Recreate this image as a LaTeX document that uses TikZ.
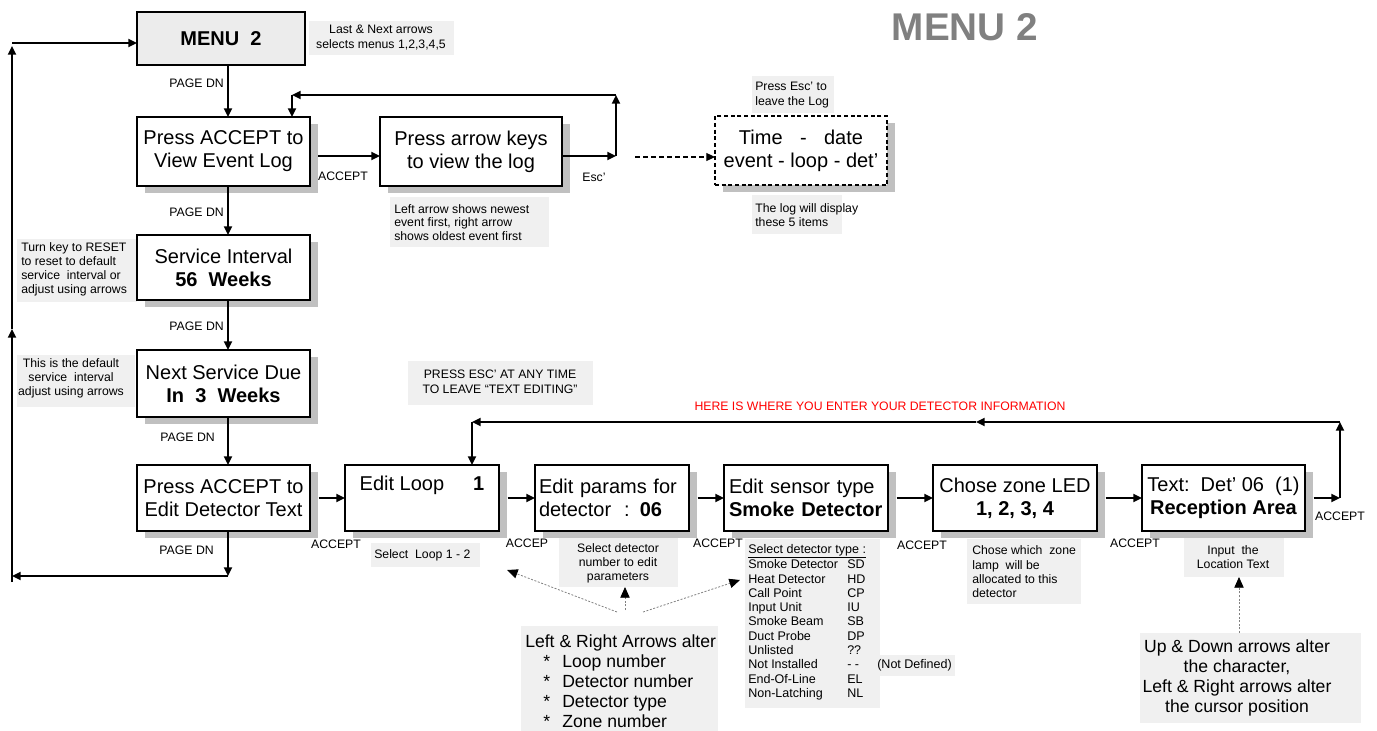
\documentclass[tikz,border=0pt]{standalone}
\usepackage{fontspec}
\setmainfont{Liberation Sans}
\usetikzlibrary{arrows.meta,fit,shadows}
\definecolor{notebg}{RGB}{240,240,240}
\definecolor{menubg}{RGB}{236,236,236}
\definecolor{shadowgray}{RGB}{192,192,192}
\definecolor{titlegray}{RGB}{128,128,128}
\definecolor{hintred}{RGB}{255,0,0}
\tikzset{
  boxnode/.style={draw, line width=2pt, fill=white, inner sep=0pt, outer sep=0pt,
    font=\fontsize{15}{17.25}\selectfont, align=center, minimum height=49.5pt,
    drop shadow={shadow xshift=6pt, shadow yshift=-5pt, fill=shadowgray, opacity=1}},
  notebox/.style={fill=notebg, inner sep=0pt, outer sep=0pt},
  notetext/.style={font=\fontsize{9.2}{10.5}\selectfont, inner sep=0pt},
  lbl/.style={font=\fontsize{9.2}{11}\selectfont, inner sep=0pt},
  bigtext/.style={font=\fontsize{13.2}{15}\selectfont, inner sep=0pt},
  arr/.style={line width=1.4pt, -{Triangle[length=6.5pt,width=6pt]}},
  dasharr/.style={line width=0.8pt, dash pattern=on 3.5pt off 2.5pt, -{Triangle[length=6.5pt,width=6pt]}},
  dotarr/.style={gray, line width=0.6pt, dash pattern=on 1.5pt off 1.2pt, -{Triangle[length=8pt,width=7pt,color=black]}},
}
\begin{document}
\begin{tikzpicture}[x=0.75pt,y=-0.75pt]
\useasboundingbox (0,0) rectangle (1377,731);

% title
\node[font=\bfseries\fontsize{29}{32}\selectfont, text=titlegray, inner sep=0pt] (title) at (965,27) {MENU 2};

% ---------- notes (backgrounds + texts)
\node[notebox, fit={(309,21)(454,55)}] (nmenubg) {};
\node[notetext, align=center, font=\fontsize{9.2}{11.25}\selectfont] (nmenu) at (381,38) {Last \& Next arrows\\selects menus 1,2,3,4,5};

\node[notebox, fit={(752,76)(834,113)}] (nescbg) {};
\node[notetext, align=left, anchor=west, font=\fontsize{9.2}{11.5}\selectfont] (nesc) at (755,95) {Press Esc’ to\\leave the Log};

\node[notebox, fit={(752,195)(842,234)}] (nlogbg) {};
\node[notetext, align=left, anchor=west, font=\fontsize{9.2}{11}\selectfont] (nlog) at (755,215) {The log will display\\these 5 items};

\node[notebox, fit={(390,197)(549,247)}] (nleftbg) {};
\node[notetext, align=left, anchor=west, font=\fontsize{9.2}{10.2}\selectfont] (nleft) at (394,222.5) {Left arrow shows newest\\event first, right arrow\\shows oldest event first};

\node[notebox, fit={(17,239)(137,302)}] (nresetbg) {};
\node[notetext, align=left, anchor=west] (nreset) at (21,269) {Turn key to RESET\\to reset to default\\service\ \ interval or\\adjust using arrows};

\node[notebox, fit={(17,355)(135,407)}] (ndefbg) {};
\node[notetext, align=center] (ndef) at (71,378) {This is the default\\service\ \ interval\\adjust using arrows};

\node[notebox, fit={(408,361)(593,405)}] (npressbg) {};
\node[notetext, align=center, font=\fontsize{9.2}{11.25}\selectfont] (npress) at (500,382) {PRESS ESC’ AT ANY TIME\\TO LEAVE “TEXT EDITING”};

\node[lbl, text=hintred] (red) at (880,406) {HERE IS WHERE YOU ENTER YOUR DETECTOR INFORMATION};

\node[notebox, fit={(371,543)(480,567)}] (nloopbg) {};
\node[notetext, anchor=west] (nloop) at (374,555) {Select\ \ Loop 1 - 2};

\node[notebox, fit={(559,537)(678,587)}] (ndetbg) {};
\node[notetext, align=center] (ndet) at (618,563) {Select detector\\number to edit\\parameters};

\node[notebox, fit={(745,539)(880,708)}] (ntypebg) {};
\node[notebox, fit={(880,655)(955,676)}] (nndbg) {};
\node[notetext, align=left, anchor=west, font=\fontsize{9.4}{10.725}\selectfont] (ntype) at (748,622) {%
\underline{Select detector type :}\\
\makebox[74.25pt][l]{Smoke Detector}SD\\
\makebox[74.25pt][l]{Heat Detector}HD\\
\makebox[74.25pt][l]{Call Point}CP\\
\makebox[74.25pt][l]{Input Unit}IU\\
\makebox[74.25pt][l]{Smoke Beam}SB\\
\makebox[74.25pt][l]{Duct Probe}DP\\
\makebox[74.25pt][l]{Unlisted}??\\
\makebox[74.25pt][l]{Not Installed}- -\\
\makebox[74.25pt][l]{End-Of-Line}EL\\
\makebox[74.25pt][l]{Non-Latching}NL};
\node[notetext, anchor=west, font=\fontsize{9.4}{11}\selectfont] (nnd) at (877,665) {(Not Defined)};

\node[notebox, fit={(967,539)(1081,604)}] (nzonebg) {};
\node[notetext, align=left, anchor=west, font=\fontsize{9.2}{10.8}\selectfont] (nzone) at (972,572) {Chose which\ \ zone\\lamp\ \ will be\\allocated to this\\detector};

\node[notebox, fit={(1184,538)(1284,577)}] (nlocbg) {};
\node[notetext, align=center] (nloc) at (1233,557) {Input\ \ the\\Location Text};

\node[notebox, fit={(521,626)(718,731)}] (nlrbg) {};
\node[bigtext, align=left, anchor=west] (nlr) at (525,681) {Left \& Right Arrows alter\\
\makebox[27.75pt][l]{\hspace{13.5pt}*}Loop number\\
\makebox[27.75pt][l]{\hspace{13.5pt}*}Detector number\\
\makebox[27.75pt][l]{\hspace{13.5pt}*}Detector type\\
\makebox[27.75pt][l]{\hspace{13.5pt}*}Zone number};

\node[notebox, fit={(1140,633)(1361,723)}] (nudbg) {};
\node[bigtext, align=center] (nud) at (1237,678) {Up \& Down arrows alter\\the character,\\Left \& Right arrows alter\\the cursor position};

% ---------- boxes
\node[draw, line width=2pt, fill=menubg, inner sep=0pt, outer sep=0pt, minimum width=126pt, minimum height=39.75pt, font=\bfseries\fontsize{15}{17}\selectfont] (menu) at (221,38.5) {MENU\ \ 2};
\node[boxnode, minimum width=129.75pt, minimum height=51.75pt] (view) at (223.5,151.5) {Press ACCEPT to\\View Event Log};
\node[boxnode, minimum width=136.5pt, minimum height=51.75pt] (keys) at (471,151.5) {Press arrow keys\\to view the log};
\node[boxnode, line width=0.9pt, dash pattern=on 3pt off 2pt, minimum width=129pt, minimum height=51.75pt] (logbox) at (801,150.5) {Time\hspace{0.87em}-\hspace{0.87em}date\\event - loop - det’};
\node[boxnode, minimum width=129.75pt, minimum height=48.75pt] (service) at (223.5,267.5) {Service Interval\\\textbf{56\ \ Weeks}};
\node[boxnode, minimum width=129.75pt, minimum height=50.25pt] (due) at (223.5,383.5) {Next Service Due\\\textbf{In\ \ 3\ \ Weeks}};
\node[boxnode, minimum width=129.75pt] (edit) at (223.5,498) {Press ACCEPT to\\Edit Detector Text};
\node[boxnode, minimum width=115.5pt] (loop) at (422,498) {Edit Loop\hspace{1.45em}\textbf{1}\\\strut};
\node[boxnode, minimum width=115.5pt, align=left, text width=109.5pt] (params) at (612,498) {Edit params for\\detector\hspace{0.65em}:\hspace{0.5em}\textbf{06}};
\node[boxnode, minimum width=123pt, align=left, text width=115.5pt] (sensor) at (806,498) {Edit sensor type\\\textbf{Smoke Detector}};
\node[boxnode, minimum width=123pt] (zone) at (1015,498) {Chose zone LED\\\textbf{1, 2, 3, 4}};
\node[boxnode, minimum width=122.25pt] (textbox) at (1223.5,498) {Text:\ \ Det’ 06\ \ (1)\\\textbf{Reception Area}};

% ---------- labels
\node[lbl, anchor=east] (pd1) at (224,83) {PAGE DN};
\node[lbl, anchor=east] (pd2) at (224,212) {PAGE DN};
\node[lbl, anchor=east] (pd3) at (224,326) {PAGE DN};
\node[lbl, anchor=east] (pd4) at (215,437) {PAGE DN};
\node[lbl, anchor=east] (pd5) at (214,550) {PAGE DN};
\node[lbl] (acc1) at (343,176) {ACCEPT};
\node[lbl] (esc) at (594,177) {Esc’};
\node[lbl] (acc2) at (336,544) {ACCEPT};
\node[lbl] (acc3) at (527,543) {ACCEP};
\node[lbl] (acc4) at (718,543) {ACCEPT};
\node[lbl] (acc5) at (922,545) {ACCEPT};
\node[lbl] (acc6) at (1135,543) {ACCEPT};
\node[lbl] (acc7) at (1340,516) {ACCEPT};

% ---------- connectors
\coordinate (colx) at (228,0);
\draw[arr] (menu.south -| colx) -- (view.north -| colx);
\draw[arr] (view.south -| colx) -- (service.north -| colx);
\draw[arr] (service.south -| colx) -- (due.north -| colx);
\draw[arr] (due.south -| colx) -- (edit.north -| colx);

\draw[arr] ([xshift=6pt,yshift=-3.4pt]view.east) -- ([yshift=-3.4pt]keys.west);

\coordinate (e1) at (616,156);
\coordinate (e2) at (616,95);
\coordinate (e3) at (292,95);
\draw[arr] ([yshift=-3.4pt]keys.east) -- (e1);
\draw[arr] (e1) -- (e2);
\draw[arr] (e2) -- (e3);
\draw[arr] (e3) -- (e3 |- view.north);

\coordinate (d1) at (635,157);
\draw[dasharr] (d1) -- (logbox.west |- d1);

% left return loop
\coordinate (b1) at (228,576);
\coordinate (b2) at (12,576);
\coordinate (b3) at (12,582);
\coordinate (b4) at (12,329);
\coordinate (b5) at (12,46);
\coordinate (b6) at (12,43);
\draw[arr] (edit.south -| colx) -- (b1);
\draw[arr] (b1) -- (b2);
\draw[arr] (b3) -- (b4);
\draw[arr] (b4) -- (b5);
\draw[arr] (b6) -- (menu.west |- b6);

% bottom row
\draw[arr] ([xshift=6.5pt]edit.east) -- (loop.west);
\draw[arr] ([xshift=6.5pt]loop.east) -- (params.west);
\draw[arr] ([xshift=6.5pt]params.east) -- (sensor.west);
\draw[arr] ([xshift=6.5pt]sensor.east) -- (zone.west);
\draw[arr] ([xshift=6.5pt]zone.east) -- (textbox.west);

\coordinate (r1) at (1340,498);
\coordinate (r2) at (1340,422);
\coordinate (m1) at (976,422);
\coordinate (c2) at (472,422);
\draw[arr] ([xshift=6.5pt]textbox.east) -- (r1);
\draw[arr] (r1) -- (r2);
\draw[arr] (r2) -- (m1);
\draw[arr] (m1) -- (c2);
\draw[arr] (c2) -- (c2 |- loop.north);

% dotted hint arrows
\coordinate (s1) at (617,612);
\coordinate (s2) at (625,610);
\coordinate (s3) at (643,612);
\coordinate (t1) at (507,570);
\coordinate (t3) at (740,580);
\draw[dotarr] (s1) -- (t1);
\draw[dotarr] (s2) -- (s2 |- ndetbg.south);
\draw[dotarr] (s3) -- (t3);
\coordinate (u1) at (1239,0);
\draw[dotarr] (nudbg.north -| u1) -- (nlocbg.south -| u1);

\end{tikzpicture}
\end{document}
